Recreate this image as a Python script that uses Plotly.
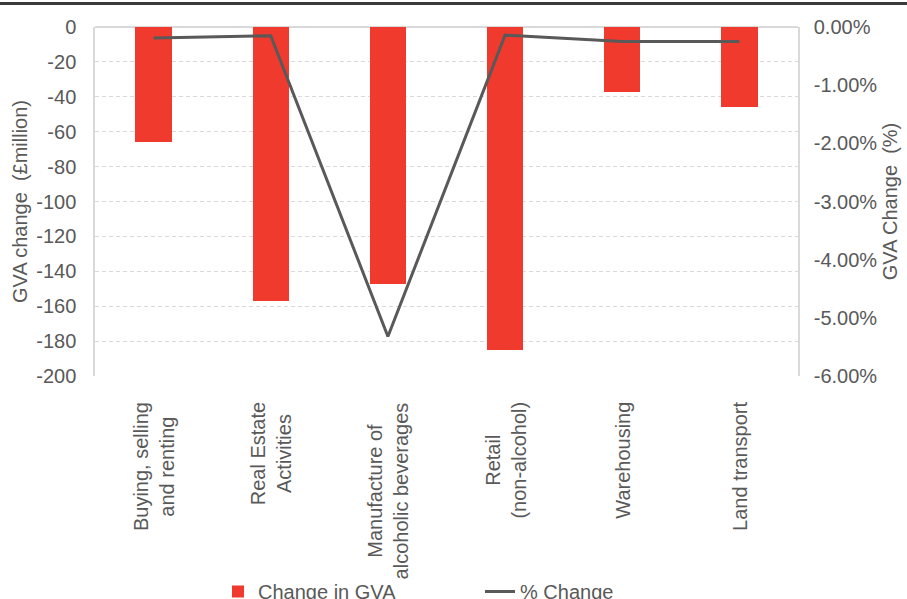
import plotly.graph_objects as go

# Sector categories (two-line labels where the name wraps)
categories = [
    "Buying, selling<br>and renting",
    "Real Estate<br>Activities",
    "Manufacture of<br>alcoholic beverages",
    "Retail<br>(non-alcohol)",
    "Warehousing",
    "Land transport",
]

# Change in gross value added, £ million
gva_change = [-66, -157, -147, -185, -37, -46]

# Change in gross value added, share of sector GVA
pct_change = [-0.0019, -0.0015, -0.0532, -0.0014, -0.0025, -0.0025]

left_ticks = list(range(-200, 1, 20))
right_ticks = [-0.06, -0.05, -0.04, -0.03, -0.02, -0.01, 0.0]

FONT = "Liberation Sans, Arial, sans-serif"
TEXT = "#595959"
GRID = "#d9d9d9"
FS = 20

# Plot-area geometry in pixels
W, H = 907, 599
L, R, T, B = 95, 109, 27, 223
PH = H - T - B

fig = go.Figure()

fig.add_trace(go.Bar(
    x=categories,
    y=gva_change,
    name="Change in GVA",
    marker=dict(color="#F03A2D", line=dict(width=0)),
    width=0.31,
    yaxis="y",
))

fig.add_trace(go.Scatter(
    x=categories,
    y=pct_change,
    name="% Change",
    mode="lines",
    line=dict(color="#595959", width=3),
    yaxis="y2",
))

# Category labels: rotated, centred lines, hanging below the plot
for cat in categories:
    fig.add_annotation(
        x=cat, xref="x",
        y=-(400 - (T + PH)) / PH, yref="paper",
        text=cat,
        textangle=-90,
        align="center",
        xanchor="center",
        yanchor="top",
        showarrow=False,
        font=dict(family=FONT, size=FS, color=TEXT),
    )

fig.update_layout(
    width=W,
    height=H,
    margin=dict(l=L, r=R, t=T, b=B),
    paper_bgcolor="white",
    plot_bgcolor="white",
    font=dict(family=FONT, size=FS, color=TEXT),
    showlegend=True,
    legend=dict(
        orientation="h",
        x=0.175,
        xanchor="left",
        xref="paper",
        y=(H - 572) / H,
        yanchor="top",
        yref="container",
        font=dict(size=FS, color=TEXT),
        entrywidth=217,
        bgcolor="rgba(0,0,0,0)",
    ),
    xaxis=dict(
        type="category",
        showgrid=False,
        showline=False,
        ticks="",
        showticklabels=False,
        automargin=False,
    ),
    yaxis=dict(
        range=[-200, 0],
        tickvals=left_ticks,
        ticktext=[str(v) for v in left_ticks],
        showgrid=True,
        gridcolor=GRID,
        gridwidth=1,
        griddash="4px,3px",
        zeroline=True,
        zerolinecolor=GRID,
        zerolinewidth=2,
        showline=True,
        linecolor=GRID,
        linewidth=1.5,
        ticks="",
        ticklabelstandoff=13,
        automargin=False,
        title=dict(text="GVA change  (£million)", font=dict(size=FS, color=TEXT), standoff=3),
    ),
    yaxis2=dict(
        range=[-0.06, 0],
        tickvals=right_ticks,
        ticktext=[f"{v * 100:.2f}%" for v in right_ticks],
        overlaying="y",
        side="right",
        showgrid=False,
        zeroline=False,
        showline=True,
        linecolor=GRID,
        linewidth=1.5,
        ticks="",
        ticklabelstandoff=10,
        automargin=False,
        title=dict(text="GVA Change  (%)", font=dict(size=FS, color=TEXT), standoff=7),
    ),
    bargap=0.0,
)

# Dark rule across the top of the figure
fig.add_shape(
    type="line",
    xref="paper", yref="paper",
    x0=-L / (W - L - R), x1=(W - L) / (W - L - R),
    y0=(PH + T - 3.5) / PH, y1=(PH + T - 3.5) / PH,
    line=dict(color="#3a3a3a", width=3),
)

fig.write_html("out.html")
